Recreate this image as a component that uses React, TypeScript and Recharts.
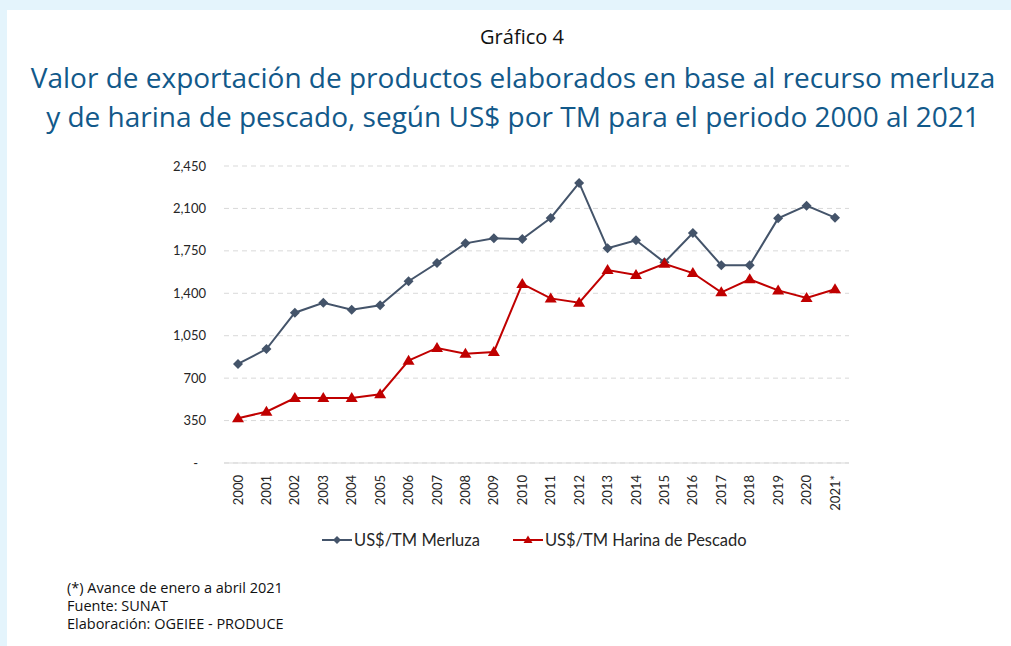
import React from "react";
import { LineChart, Line, XAxis, YAxis, CartesianGrid } from "recharts";

const years = ["2000", "2001", "2002", "2003", "2004", "2005", "2006", "2007", "2008", "2009", "2010", "2011", "2012", "2013", "2014", "2015", "2016", "2017", "2018", "2019", "2020", "2021*"];
const merluza = [817, 940, 1240, 1322, 1265, 1301, 1499, 1650, 1812, 1853, 1848, 2021, 2310, 1771, 1837, 1655, 1897, 1631, 1631, 2018, 2123, 2024];
const harina = [369, 423, 536, 536, 536, 567, 844, 949, 902, 916, 1477, 1358, 1322, 1592, 1551, 1644, 1567, 1408, 1515, 1424, 1361, 1433];
const yTicks = [0, 350, 700, 1050, 1400, 1750, 2100, 2450];

const data = years.map((year, i) => ({ year, merluza: merluza[i], harina: harina[i] }));

const GREY = "#44546a";
const RED = "#c00000";
const TICK_FONT = "Lato, 'Open Sans', sans-serif";
const TEXT_FONT = "'Open Sans', 'Noto Sans', sans-serif";

function Diamond(props: any) {
  const { cx, cy } = props;
  if (cx == null || cy == null) return null;
  return <polygon points={`${cx},${cy - 5} ${cx + 5},${cy} ${cx},${cy + 5} ${cx - 5},${cy}`} fill={GREY} />;
}

function Triangle(props: any) {
  const { cx, cy } = props;
  if (cx == null || cy == null) return null;
  return <polygon points={`${cx},${cy - 6} ${cx + 6},${cy + 4} ${cx - 6},${cy + 4}`} fill={RED} />;
}

function YTick(props: any) {
  const { x, y, payload } = props;
  const v = payload.value as number;
  const label = v === 0 ? "-" : v.toLocaleString("en-US");
  return (
    <text x={v === 0 ? x - 8 : x} y={y} dy="0.35em" textAnchor="end" fill="#262626" fontSize={13} fontFamily={TICK_FONT}>
      {label}
    </text>
  );
}

function XTick(props: any) {
  const { x, y, payload } = props;
  return (
    <text x={0} y={0} dy="0.35em" textAnchor="end" fill="#262626" fontSize={13} fontFamily={TICK_FONT} transform={`translate(${x},${y + 4}) rotate(-90)`}>
      {payload.value}
    </text>
  );
}

function LegendItem({ color, marker, label }: { color: string; marker: "diamond" | "triangle"; label: string }) {
  return (
    <div style={{ display: "flex", alignItems: "center", gap: 2 }}>
      <svg width={30} height={12}>
        <line x1={0} y1={6} x2={30} y2={6} stroke={color} strokeWidth={2} />
        {marker === "diamond" ? (
          <polygon points="15,2 19,6 15,10 11,6" fill={color} />
        ) : (
          <polygon points="15,1.5 19.5,9 10.5,9" fill={color} />
        )}
      </svg>
      <span>{label}</span>
    </div>
  );
}

export default function App() {
  return (
    <div style={{ position: "absolute", left: 0, top: 0, width: 1011, height: 646, background: "#e4f4fc", overflow: "hidden" }}>
      <div style={{ position: "absolute", left: 7, top: 10, width: 1004, height: 636, background: "#ffffff" }} />
      <div style={{ position: "absolute", left: 0, top: 23, width: 1044, textAlign: "center", fontFamily: TEXT_FONT, fontSize: 20, lineHeight: "28px", color: "#111" }}>
        Gráfico 4
      </div>
      <div style={{ position: "absolute", left: 0, top: 58, width: 1026, textAlign: "center", fontFamily: TEXT_FONT, fontSize: 28, lineHeight: "39px", color: "#12598a" }}>
        Valor de exportación de productos elaborados en base al recurso merluza
        <br />
        y de harina de pescado, según US$ por TM para el periodo 2000 al 2021
      </div>
      <div style={{ position: "absolute", left: 0, top: 150 }}>
        <LineChart width={1011} height={373} data={data} margin={{ top: 16, right: 162, bottom: 0, left: 164 }}>
          <CartesianGrid vertical={false} stroke="#d9d9d9" strokeDasharray="5 4" />
          <XAxis dataKey="year" interval={0} height={60} padding={{ left: 14, right: 14 }} axisLine={{ stroke: "#d9d9d9" }} tickLine={false} tick={<XTick />} />
          <YAxis domain={[0, 2450]} ticks={yTicks} width={60} axisLine={false} tickLine={false} tickSize={0} tickMargin={18} tick={<YTick />} />
          <Line type="linear" dataKey="merluza" stroke={GREY} strokeWidth={2} dot={<Diamond />} activeDot={false} isAnimationActive={false} />
          <Line type="linear" dataKey="harina" stroke={RED} strokeWidth={2} dot={<Triangle />} activeDot={false} isAnimationActive={false} />
        </LineChart>
      </div>
      <div style={{ position: "absolute", left: 322, top: 530, display: "flex", gap: 33, fontFamily: TICK_FONT, fontSize: 16.5, color: "#262626" }}>
        <LegendItem color={GREY} marker="diamond" label="US$/TM Merluza" />
        <LegendItem color={RED} marker="triangle" label="US$/TM Harina de Pescado" />
      </div>
      <div style={{ position: "absolute", left: 67, top: 579, fontFamily: TEXT_FONT, fontSize: 14.5, lineHeight: "18px", color: "#111" }}>
        <div>(*) Avance de enero a abril 2021</div>
        <div>Fuente: SUNAT</div>
        <div>Elaboración: OGEIEE - PRODUCE</div>
      </div>
    </div>
  );
}
